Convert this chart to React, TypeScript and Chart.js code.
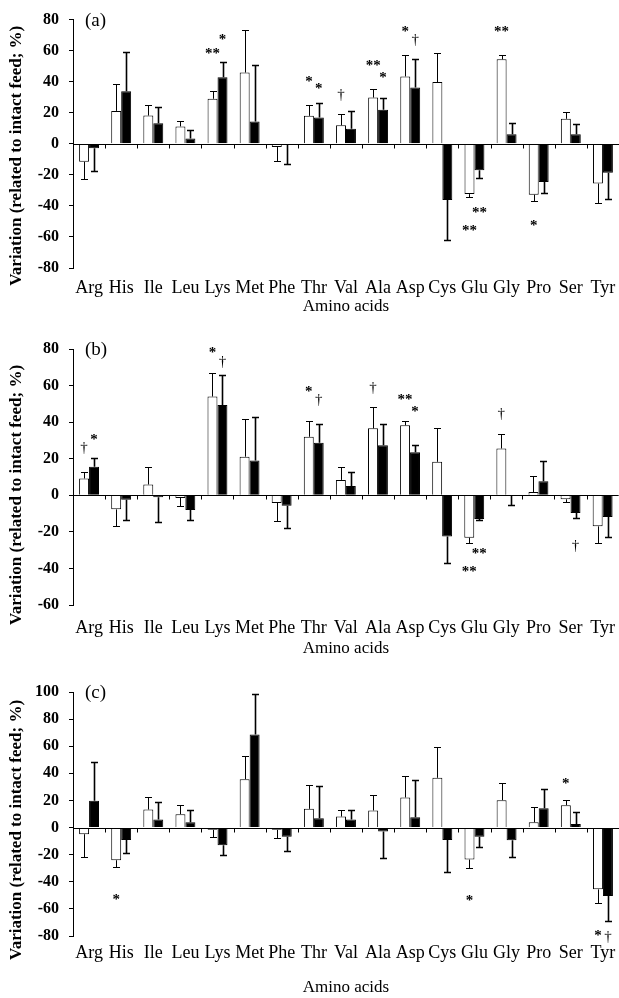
import React, { useEffect, useRef } from 'react';
import { Chart, registerables } from 'chart.js';

Chart.register(...registerables);

const aminoAcids = ['Arg', 'His', 'Ile', 'Leu', 'Lys', 'Met', 'Phe', 'Thr', 'Val', 'Ala', 'Asp', 'Cys', 'Glu', 'Gly', 'Pro', 'Ser', 'Tyr'];

// Panel (a)
const whiteA = [-11.6, 21.2, 18.2, 11.2, 29, 45.9, -2.1, 18, 11.9, 29.8, 43.4, 39.8, -32.4, 54.4, -32.8, 16.1, -25.6];
const whiteErrA = [10.8, 17.5, 7, 3.4, 5.3, 27.1, 8.7, 7.2, 7.6, 5.5, 13.5, 18.4, 2.1, 2.7, 4.2, 4.4, 12.5];
const blackA = [-2.8, 33.9, 13.3, 3.4, 42.8, 14.4, -0.6, 16.9, 9.7, 22, 36.2, -36.2, -17.1, 6.1, -24.6, 6.1, -18.6];
const blackErrA = [14.9, 25.4, 10.6, 5.5, 10.1, 36.6, 12.1, 9.6, 11.3, 7.8, 18.2, 25.8, 4.7, 7, 7.1, 6.6, 17];
const marksA = [
  { aa: 'Lys', series: 0, at: 60, mark: '**' },
  { aa: 'Lys', series: 1, at: 68.6, mark: '*' },
  { aa: 'Thr', series: 0, at: 41.7, mark: '*' },
  { aa: 'Thr', series: 1, at: 37, mark: '*' },
  { aa: 'Val', series: 0, at: 31.5, mark: '†' },
  { aa: 'Ala', series: 0, at: 52, mark: '**' },
  { aa: 'Ala', series: 1, at: 44, mark: '*' },
  { aa: 'Asp', series: 0, at: 73.9, mark: '*' },
  { aa: 'Asp', series: 1, at: 67, mark: '†' },
  { aa: 'Gly', series: 0, at: 73.9, mark: '**' },
  { aa: 'Glu', series: 0, at: -54, mark: '**' },
  { aa: 'Glu', series: 1, at: -42.5, mark: '**' },
  { aa: 'Pro', series: 0, at: -51.4, mark: '*' },
];

// Panel (b)
const whiteB = [9.2, -7.7, 5.9, -1.5, 54, 21.1, -4.2, 32, 8.4, 36.6, 38.3, 18.3, -23.2, 25.6, 1.8, -2.2, -17];
const whiteErrB = [3.6, 9.1, 9.7, 4.2, 12.8, 20.5, 10.1, 8.6, 7.2, 11.7, 2.2, 18.3, 2.8, 8.1, 8.8, 1.6, 9.2];
const blackB = [15.6, -2.4, -1.1, -8.1, 49.4, 19, -5.7, 28.7, 5.1, 27.3, 23.6, -22.5, -13, -0.4, 7.7, -9.7, -11.9];
const blackErrB = [4.9, 11.3, 13.5, 5.6, 16.3, 24, 12.2, 10.5, 7.7, 11.9, 3.7, 14.5, 0.5, 5.1, 11, 2.9, 10.8];
const marksB = [
  { aa: 'Arg', series: 0, at: 25.6, mark: '†' },
  { aa: 'Arg', series: 1, at: 31.7, mark: '*' },
  { aa: 'Lys', series: 0, at: 79.3, mark: '*' },
  { aa: 'Lys', series: 1, at: 72.9, mark: '†' },
  { aa: 'Thr', series: 0, at: 58.2, mark: '*' },
  { aa: 'Thr', series: 1, at: 52.2, mark: '†' },
  { aa: 'Ala', series: 0, at: 58.6, mark: '†' },
  { aa: 'Asp', series: 0, at: 53.5, mark: '**' },
  { aa: 'Asp', series: 1, at: 47, mark: '*' },
  { aa: 'Glu', series: 0, at: -40.3, mark: '**' },
  { aa: 'Glu', series: 1, at: -30.6, mark: '**' },
  { aa: 'Gly', series: 0, at: 44.5, mark: '†' },
  { aa: 'Ser', series: 1, at: -27.5, mark: '†' },
];

// Panel (c)
const whiteC = [-4.9, -24.1, 13.3, 9.9, -1.7, 35.7, -1.7, 13.8, 8.1, 12.6, 22.2, 36.7, -23.6, 20.2, 3.9, 16.5, -45.6];
const whiteErrC = [16.5, 4.7, 9.6, 6.8, 5.4, 16.8, 5.7, 17.7, 4.9, 11.3, 16.2, 22.9, 6.4, 12.8, 11.6, 3.5, 10.3];
const blackC = [19.7, -9.1, 5.9, 3.9, -13.1, 68.7, -6.7, 6.9, 5.9, -3, 7.6, -9.1, -6.7, -9.4, 14.3, 2.7, -50.5];
const blackErrC = [28.3, 9.4, 12.6, 8.7, 6.9, 30.1, 10.3, 23.9, 6.7, 19.2, 27.6, 23.4, 7.3, 12, 14, 8.6, 18.2];
const marksC = [
  { aa: 'His', series: 0, at: -51.5, mark: '*' },
  { aa: 'Glu', series: 0, at: -52, mark: '*' },
  { aa: 'Ser', series: 0, at: 34, mark: '*' },
  { aa: 'Tyr', series: 0, at: -78, mark: '*' },
  { aa: 'Tyr', series: 1, at: -80.5, mark: '†' },
];

const SERIF = "'Liberation Serif', 'Times New Roman', serif";
const yTitle = 'Variation (related to intact feed; %)';
const xTitle = 'Amino acids';

const decorPlugin = {
  id: 'decor',
  afterDatasetsDraw(chart: any, _args: any, opts: any) {
    const ctx = chart.ctx;
    const xs = chart.scales.x;
    const ys = chart.scales.y;
    const area = chart.chartArea;
    ctx.save();
    // zero line
    const y0 = Math.round(ys.getPixelForValue(0)) + 0.5;
    ctx.strokeStyle = '#000';
    ctx.lineWidth = 1;
    ctx.beginPath();
    ctx.moveTo(area.left, y0);
    ctx.lineTo(area.right, y0);
    const n = chart.data.labels.length;
    for (let i = 1; i < n; i++) {
      const bx = Math.round((xs.getPixelForTick(i - 1) + xs.getPixelForTick(i)) / 2) + 0.5;
      ctx.moveTo(bx, y0);
      ctx.lineTo(bx, y0 + 4);
    }
    ctx.stroke();

    // error bars
    chart.data.datasets.forEach((ds: any, di: number) => {
      const meta = chart.getDatasetMeta(di);
      ctx.lineWidth = ds.errorWidth || 1;
      ctx.strokeStyle = '#000';
      meta.data.forEach((bar: any, j: number) => {
        const v = ds.data[j];
        const e = ds.errors[j];
        const end = v >= 0 ? v + e : v - e;
        const px = Math.round(bar.x) + 0.5;
        const pv = ys.getPixelForValue(v);
        const pe = Math.round(ys.getPixelForValue(end)) + 0.5;
        ctx.beginPath();
        ctx.moveTo(px, pv);
        ctx.lineTo(px, pe);
        ctx.moveTo(px - 3.5, pe);
        ctx.lineTo(px + 3.5, pe);
        ctx.stroke();
      });
    });

    // significance marks
    ctx.fillStyle = '#000';
    ctx.textAlign = 'center';
    ctx.textBaseline = 'middle';
    (opts.marks || []).forEach((m: any) => {
      const j = chart.data.labels.indexOf(m.aa);
      const bar = chart.getDatasetMeta(m.series).data[j];
      ctx.font = m.mark === '†' ? `15px ${SERIF}` : `bold 15px ${SERIF}`;
      const py = ys.getPixelForValue(m.at);
      ctx.fillText(m.mark, bar.x, m.mark === '†' ? py : py + 3);
    });

    // panel label
    ctx.font = `19px ${SERIF}`;
    ctx.textAlign = 'left';
    ctx.fillText(opts.panel, area.left + 12, area.top + 1);

    // y-axis title
    ctx.save();
    ctx.translate(17, (area.top + area.bottom) / 2 + opts.titleShift);
    ctx.rotate(-Math.PI / 2);
    ctx.textAlign = 'center';
    ctx.textBaseline = 'middle';
    ctx.font = `bold 17px ${SERIF}`;
    ctx.fillText(yTitle, 0, 0);
    ctx.restore();

    ctx.restore();
  },
};

type PanelProps = {
  top: number;
  height: number;
  chartTop: number;
  chartBottom: number;
  whites: number[];
  whiteErrs: number[];
  blacks: number[];
  blackErrs: number[];
  marks: any[];
  yMin: number;
  yMax: number;
  panel: string;
  tickPad: number;
  titlePad: number;
  titleShift: number;
};

function Panel(p: PanelProps) {
  const ref = useRef<HTMLCanvasElement>(null);
  useEffect(() => {
    if (!ref.current) return;
    const chart = new Chart(ref.current, {
      type: 'bar',
      data: {
        labels: aminoAcids,
        datasets: [
          {
            label: 'white',
            data: p.whites,
            errors: p.whiteErrs,
            errorWidth: 1,
            backgroundColor: '#ffffff',
            borderColor: '#000000',
            borderWidth: 1,
            categoryPercentage: 0.62,
            barPercentage: 1,
          } as any,
          {
            label: 'black',
            data: p.blacks,
            errors: p.blackErrs,
            errorWidth: 1.6,
            backgroundColor: '#000000',
            borderColor: '#000000',
            borderWidth: 1,
            categoryPercentage: 0.62,
            barPercentage: 1,
          } as any,
        ],
      },
      options: {
        responsive: false,
        animation: false,
        devicePixelRatio: 1,
        layout: { padding: { top: p.chartTop, left: 0, right: 0, bottom: 0 } },
        plugins: {
          legend: { display: false },
          tooltip: { enabled: false },
          decor: { marks: p.marks, panel: p.panel, titleShift: p.titleShift },
        } as any,
        scales: {
          x: {
            type: 'category',
            offset: true,
            grid: { display: false },
            border: { display: false },
            ticks: {
              color: '#000',
              font: { family: SERIF, size: 18 },
              padding: p.tickPad,
              maxRotation: 0,
              autoSkip: false,
            },
            title: {
              display: true,
              text: xTitle,
              color: '#000',
              font: { family: SERIF, size: 17 },
              padding: { top: 0, bottom: p.titlePad },
            },
            afterFit: (s: any) => {
              s.height = p.height - p.chartBottom;
            },
          },
          y: {
            min: p.yMin,
            max: p.yMax,
            ticks: {
              stepSize: 20,
              color: '#000',
              font: { family: SERIF, size: 16, weight: 'bold' },
              padding: 10,
            },
            grid: { drawOnChartArea: false, tickLength: 4, color: '#000' },
            border: { color: '#000', width: 1 },
            title: { display: false },
            afterFit: (s: any) => {
              s.width = 73;
            },
          },
        },
      } as any,
      plugins: [decorPlugin],
    });
    return () => chart.destroy();
  }, []);
  return (
    <canvas
      ref={ref}
      width={619}
      height={p.height}
      style={{ position: 'absolute', left: 0, top: p.top, width: 619, height: p.height }}
    />
  );
}

export default function App() {
  return (
    <div style={{ position: 'absolute', left: 0, top: 0, width: 619, height: 998, background: '#fff', overflow: 'hidden' }}>
      <Panel top={0} height={320} chartTop={16} chartBottom={268}
        whites={whiteA} whiteErrs={whiteErrA} blacks={blackA} blackErrs={blackErrA}
        marks={marksA} yMin={-80} yMax={80} panel="(a)" tickPad={1} titlePad={3} titleShift={12} />
      <Panel top={320} height={340} chartTop={29} chartBottom={285}
        whites={whiteB} whiteErrs={whiteErrB} blacks={blackB} blackErrs={blackErrB}
        marks={marksB} yMin={-60} yMax={80} panel="(b)" tickPad={4} titlePad={1} titleShift={18} />
      <Panel top={660} height={338} chartTop={32} chartBottom={276}
        whites={whiteC} whiteErrs={whiteErrC} blacks={blackC} blackErrs={blackErrC}
        marks={marksC} yMin={-80} yMax={100} panel="(c)" tickPad={-2} titlePad={0} titleShift={16} />
    </div>
  );
}
